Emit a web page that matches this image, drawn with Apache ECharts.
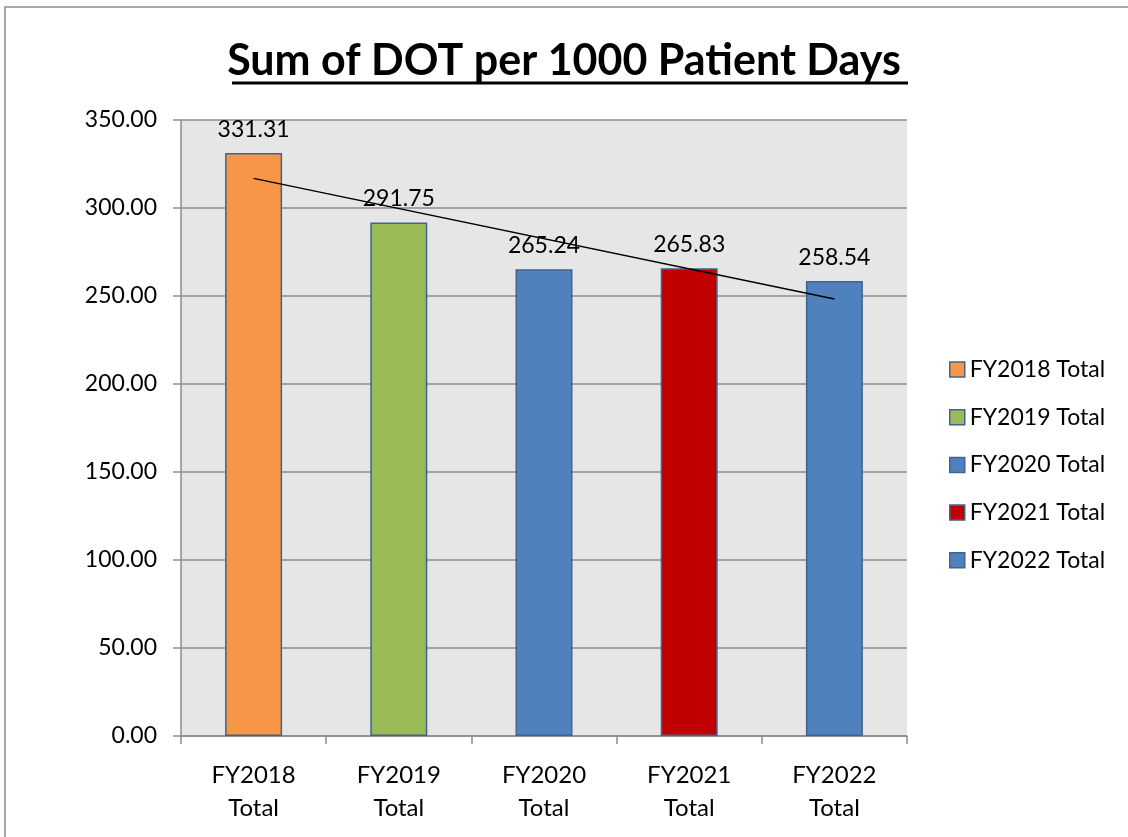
<!DOCTYPE html>
<html><head><meta charset="utf-8">
<script src="https://cdn.jsdelivr.net/npm/echarts@6/dist/echarts.min.js"></script>
<style>html,body{margin:0;padding:0;background:#fff}#c{width:1128px;height:837px}</style>
</head><body><div id="c"></div>
<script>
const categories = ['FY2018 Total','FY2019 Total','FY2020 Total','FY2021 Total','FY2022 Total'];
const values = [331.31, 291.75, 265.24, 265.83, 258.54];
const barColors = ['#f79646','#9bbb59','#4f81bd','#c00000','#4f81bd'];
const trendEnds = [316.83, 248.24];
const yTicks = {min:0, max:350, interval:50};

const FONT = 'Lato';
const chart = echarts.init(document.getElementById('c'));
const series = categories.map((name, i) => ({
  name: name,
  type: 'bar',
  stack: 'all',
  barWidth: 57,
  data: categories.map((c, j) => j === i ? values[i] : '-'),
  itemStyle: {color: barColors[i], borderColor: '#41648f', borderWidth: 1.5},
  label: {show: true, position: 'top', distance: 12, formatter: p => p.value.toFixed(2),
    fontFamily: FONT, fontSize: 23, color: '#000'},
  emphasis: {disabled: true}
}));
series[0].markLine = {
  symbol: 'none', silent: true, label: {show: false},
  lineStyle: {color: '#000', width: 1.5, type: 'solid'},
  data: [[{coord: [categories[0], trendEnds[0]]}, {coord: [categories[4], trendEnds[1]]}]]
};
chart.setOption({
  animation: false,
  title: {text: 'Sum of DOT per 1000 Patient Days', left: 'center', top: 40, padding: 0,
    textStyle: {fontFamily: FONT, fontWeight: 'bold', fontSize: 43, color: '#000'}},
  graphic: [
    {type: 'rect', shape: {x: 5, y: 7, width: 1130, height: 840}, style: {fill: 'none', stroke: '#8c8c8c', lineWidth: 1.5}, z: 100},
    {type: 'line', shape: {x1: 232, y1: 83, x2: 908, y2: 83}, style: {stroke: '#000', lineWidth: 3}}
  ],
  legend: {orient: 'vertical', left: 949, top: 358, padding: 0, itemWidth: 15, itemHeight: 15, itemGap: 24.7,
    icon: 'rect', textStyle: {fontFamily: FONT, fontSize: 23, color: '#000'},
    itemStyle: {borderColor: '#41648f', borderWidth: 1.5},
    data: categories},
  grid: {left: 181, right: 221, top: 120, bottom: 101, show: true, backgroundColor: '#e6e6e6', borderWidth: 0},
  xAxis: {type: 'category', data: categories,
    axisLine: {lineStyle: {color: '#8c8c8c', width: 1.5}},
    axisTick: {show: true, length: 8, lineStyle: {color: '#8c8c8c', width: 1.5}},
    axisLabel: {fontFamily: FONT, fontSize: 24, color: '#000', margin: 23, lineHeight: 33,
      formatter: v => v.replace(' ', '\n')}},
  yAxis: {type: 'value', min: yTicks.min, max: yTicks.max, interval: yTicks.interval,
    axisLine: {show: true, lineStyle: {color: '#8c8c8c', width: 1.5}},
    axisTick: {show: true, length: 8, lineStyle: {color: '#8c8c8c', width: 1.5}},
    splitLine: {lineStyle: {color: '#8c8c8c', width: 1.5}},
    axisLabel: {fontFamily: FONT, fontSize: 23, color: '#000', margin: 24, formatter: v => v.toFixed(2)}},
  series: series
});
</script></body></html>
